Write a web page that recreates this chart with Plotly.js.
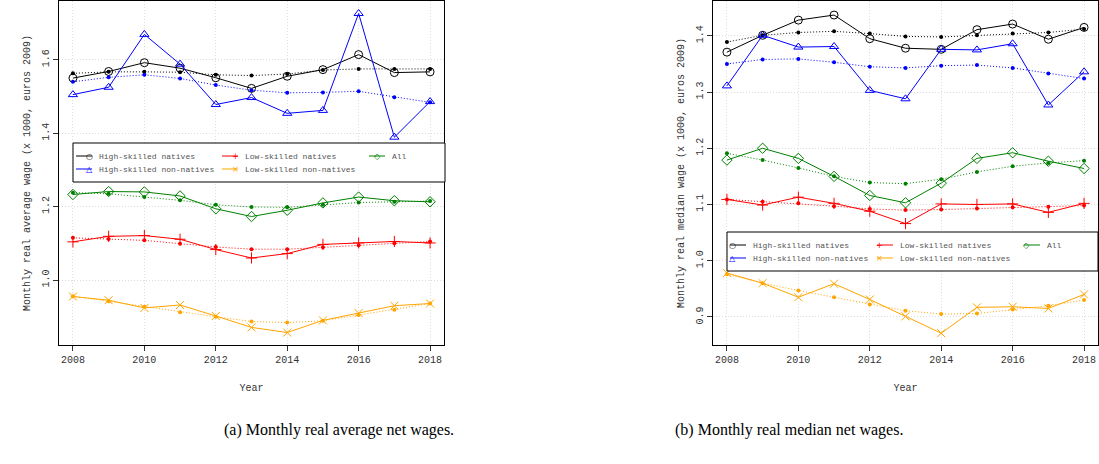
<!DOCTYPE html>
<html>
<head>
<meta charset="utf-8">
<script src="https://cdn.plot.ly/plotly-3.0.1.min.js"></script>
<style>body{margin:0;background:#fff}#chart{width:1099px;height:464px}</style>
</head>
<body>
<div id="chart"></div>
<script>
// years
let years = [2008, 2009, 2010, 2011, 2012, 2013, 2014, 2015, 2016, 2017, 2018];

// (a) average wages: observed (solid) and fitted (dotted)
let avgHsn = [1.550, 1.568, 1.592, 1.577, 1.551, 1.522, 1.555, 1.573, 1.614, 1.565, 1.567];
let avgHsnFit = [1.563, 1.567, 1.567, 1.566, 1.559, 1.557, 1.561, 1.572, 1.575, 1.575, 1.575];
let avgHsnn = [1.505, 1.525, 1.669, 1.588, 1.478, 1.497, 1.454, 1.462, 1.726, 1.389, 1.486];
let avgHsnnFit = [1.540, 1.552, 1.559, 1.549, 1.531, 1.517, 1.510, 1.511, 1.514, 1.498, 1.484];
let avgAll = [1.233, 1.241, 1.240, 1.229, 1.194, 1.173, 1.190, 1.210, 1.226, 1.216, 1.213];
let avgAllFit = [1.238, 1.235, 1.226, 1.217, 1.205, 1.199, 1.198, 1.205, 1.211, 1.213, 1.215];
let avgLsn = [1.104, 1.119, 1.121, 1.111, 1.083, 1.060, 1.072, 1.097, 1.101, 1.105, 1.101];
let avgLsnFit = [1.115, 1.112, 1.108, 1.099, 1.090, 1.084, 1.084, 1.089, 1.095, 1.100, 1.105];
let avgLsnn = [0.955, 0.945, 0.924, 0.932, 0.902, 0.871, 0.857, 0.890, 0.910, 0.930, 0.936];
let avgLsnnFit = [0.956, 0.942, 0.927, 0.912, 0.900, 0.887, 0.884, 0.889, 0.905, 0.919, 0.936];

// (b) median wages
let medHsn = [1.371, 1.401, 1.428, 1.437, 1.395, 1.378, 1.376, 1.411, 1.421, 1.394, 1.415];
let medHsnFit = [1.389, 1.401, 1.406, 1.408, 1.404, 1.399, 1.398, 1.401, 1.404, 1.406, 1.412];
let medHsnn = [1.311, 1.401, 1.380, 1.381, 1.303, 1.288, 1.376, 1.375, 1.386, 1.277, 1.336];
let medHsnnFit = [1.350, 1.358, 1.359, 1.353, 1.345, 1.343, 1.347, 1.348, 1.343, 1.333, 1.324];
let medAll = [1.179, 1.200, 1.182, 1.150, 1.116, 1.103, 1.138, 1.182, 1.192, 1.177, 1.164];
let medAllFit = [1.191, 1.179, 1.165, 1.150, 1.139, 1.137, 1.145, 1.158, 1.168, 1.174, 1.178];
let medLsn = [1.109, 1.099, 1.113, 1.102, 1.088, 1.066, 1.101, 1.100, 1.101, 1.086, 1.102];
let medLsnFit = [1.109, 1.105, 1.102, 1.097, 1.092, 1.090, 1.091, 1.093, 1.095, 1.096, 1.098];
let medLsnn = [0.978, 0.960, 0.935, 0.959, 0.931, 0.901, 0.871, 0.917, 0.918, 0.915, 0.940];
let medLsnnFit = [0.976, 0.960, 0.947, 0.935, 0.922, 0.911, 0.905, 0.906, 0.913, 0.920, 0.930];

let groups = [
    {name: 'High-skilled natives', color: 'black', symbol: 'circle-open', glyph: '○'},
    {name: 'High-skilled non-natives', color: 'blue', symbol: 'triangle-up-open', glyph: '△'},
    {name: 'Low-skilled natives', color: 'red', symbol: 'cross-thin-open', glyph: '+'},
    {name: 'Low-skilled non-natives', color: 'orange', symbol: 'x-thin-open', glyph: '×'},
    {name: 'All', color: 'green', symbol: 'diamond-open', glyph: '◇'}
];

let avgSeries = [[avgHsn, avgHsnFit], [avgHsnn, avgHsnnFit], [avgLsn, avgLsnFit], [avgLsnn, avgLsnnFit], [avgAll, avgAllFit]];
let medSeries = [[medHsn, medHsnFit], [medHsnn, medHsnnFit], [medLsn, medLsnFit], [medLsnn, medLsnnFit], [medAll, medAllFit]];

let mono = "'Liberation Mono', 'Courier New', Courier, monospace";
let data = [];

function addPanel(series, xa, ya) {
    series.forEach((pair, i) => {
        let g = groups[i];
        data.push({
            x: years, y: pair[1], xaxis: xa, yaxis: ya, mode: 'lines+markers',
            line: {color: g.color, width: 1, dash: '1px,2px'},
            marker: {color: g.color, size: 4},
            showlegend: false, hoverinfo: 'skip'
        });
        data.push({
            x: years, y: pair[0], xaxis: xa, yaxis: ya, mode: 'lines+markers',
            line: {color: g.color, width: 1},
            marker: {color: g.color, symbol: g.symbol, size: 8, line: {color: g.color, width: 1}},
            showlegend: false, name: g.name
        });
    });
}
addPanel(avgSeries, 'x', 'y');
addPanel(medSeries, 'x2', 'y2');

function xAxis(dom) {
    return {
        domain: dom, range: [2007.61, 2018.39], tickvals: [2008, 2010, 2012, 2014, 2016, 2018],
        ticks: 'outside', ticklen: 5, tickcolor: '#333', showline: true, linecolor: 'black', mirror: true,
        showgrid: true, gridcolor: '#ddd', griddash: '1px,2px', zeroline: false,
        tickfont: {family: mono, size: 10, color: '#333'},
        title: {text: 'Year', font: {family: mono, size: 10, color: '#333'}, standoff: 18}
    };
}
function yAxis(dom, range, dtick, title) {
    return {
        domain: dom, range: range, dtick: dtick, tickangle: -90, tickformat: '.1f',
        ticks: 'outside', ticklen: 5, tickcolor: '#333', showline: true, linecolor: 'black', mirror: true,
        showgrid: true, gridcolor: '#ddd', griddash: '1px,2px', zeroline: false,
        tickfont: {family: mono, size: 10, color: '#333'},
        title: {text: title, font: {family: mono, size: 10, color: '#333'}, standoff: 8}
    };
}

let W = 1099, H = 464;
let shapes = [];
let annotations = [];

// legend drawn by hand: box + line samples + glyphs + labels (pixel positions converted to paper)
function legend(left, right, top, cols) {
    shapes.push({type: 'rect', xref: 'paper', yref: 'paper', x0: left / W, x1: right / W,
        y0: 1 - (top + 39) / H, y1: 1 - top / H, fillcolor: 'white', line: {color: 'black', width: 1}, layer: 'above'});
    let slots = [[0, 0], [0, 1], [1, 0], [1, 1], [2, 0]];
    groups.forEach((g, i) => {
        let cx = left + 3 + cols[slots[i][0]];
        let cy = top + 13 + slots[i][1] * 13;
        shapes.push({type: 'line', xref: 'paper', yref: 'paper', x0: cx / W, x1: (cx + 16) / W,
            y0: 1 - cy / H, y1: 1 - cy / H, line: {color: g.color, width: 1}, layer: 'above'});
        annotations.push({xref: 'paper', yref: 'paper', x: (cx + 8) / W, y: 1 - cy / H, text: g.glyph,
            showarrow: false, font: {family: 'DejaVu Sans', size: 8, color: g.color}});
        annotations.push({xref: 'paper', yref: 'paper', x: (cx + 21) / W, y: 1 - cy / H, text: g.name,
            xanchor: 'left', showarrow: false, font: {family: mono, size: 8, color: '#555'}});
    });
}
legend(73, 445, 143, [0, 146, 293]);
legend(727, 1098, 232, [0, 147, 294]);

annotations.push({xref: 'paper', yref: 'paper', x: 222 / W, y: 1 - 441 / H, text: '(a) Monthly real average net wages.',
    showarrow: false, font: {family: "'Liberation Serif', 'DejaVu Serif', serif", size: 16, color: 'black'}});
annotations.push({xref: 'paper', yref: 'paper', x: 905 / W, y: 1 - 441 / H, text: '(b) Monthly real median net wages.',
    showarrow: false, font: {family: "'Liberation Serif', 'DejaVu Serif', serif", size: 16, color: 'black'}});

let layout = {
    width: W, height: H, margin: {l: 0, r: 0, t: 0, b: 0},
    paper_bgcolor: 'white', plot_bgcolor: 'white', showlegend: false,
    xaxis: xAxis([59 / W, 444 / W]),
    yaxis: yAxis([1 - 345 / H, 1 - 1 / H], [0.823, 1.76], 0.2, 'Monthly real average wage (x 1000, euros 2009)'),
    xaxis2: xAxis([713 / W, 1098 / W]),
    yaxis2: yAxis([1 - 345 / H, 1 - 1 / H], [0.850, 1.462], 0.1, 'Monthly real median wage (x 1000, euros 2009)'),
    shapes: shapes, annotations: annotations
};
layout.xaxis2.anchor = 'y2';
layout.yaxis2.anchor = 'x2';

Plotly.newPlot('chart', data, layout, {displayModeBar: false, staticPlot: true});
</script>
</body>
</html>
